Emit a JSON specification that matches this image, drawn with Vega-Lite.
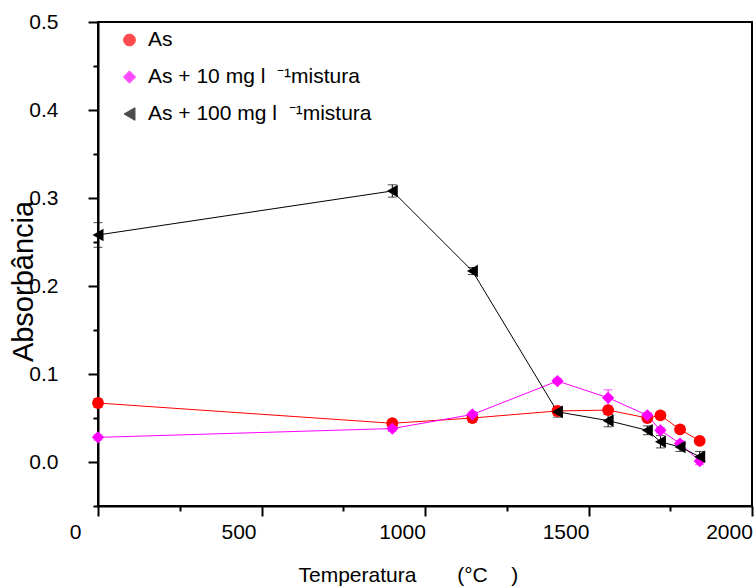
{
  "$schema": "https://vega.github.io/schema/vega-lite/v6.json",
  "width": 654,
  "height": 484,
  "autosize": "none",
  "padding": {"left": 98, "top": 22, "right": 4, "bottom": 80},
  "background": "white",
  "config": {
    "font": "Liberation Sans",
    "view": {"stroke": "#000000", "strokeWidth": 2},
    "axis": {
      "grid": false,
      "domainColor": "#000000",
      "domainWidth": 2,
      "tickColor": "#000000",
      "tickWidth": 2,
      "labelColor": "#000000",
      "titleColor": "#000000",
      "labelFont": "Liberation Sans",
      "titleFont": "Liberation Sans",
      "labelFontSize": 21,
      "titleFontSize": 21,
      "titleFontWeight": "normal",
      "labelFlush": false,
      "labelOverlap": false
    }
  },
  "datasets": {
    "pts": [
      {"serie": "As", "T": 0, "A": 0.067, "E": 0.005},
      {"serie": "As", "T": 900, "A": 0.044, "E": 0.003},
      {"serie": "As", "T": 1145, "A": 0.050, "E": 0.003},
      {"serie": "As", "T": 1405, "A": 0.058, "E": 0.003},
      {"serie": "As", "T": 1560, "A": 0.059, "E": 0.003},
      {"serie": "As", "T": 1680, "A": 0.050, "E": 0.003},
      {"serie": "As", "T": 1720, "A": 0.053, "E": 0.003},
      {"serie": "As", "T": 1780, "A": 0.037, "E": 0.003},
      {"serie": "As", "T": 1840, "A": 0.024, "E": 0.003},
      {"serie": "As + 10 mg l \u00a0⁻¹mistura", "T": 0, "A": 0.028, "E": 0.003},
      {"serie": "As + 10 mg l \u00a0⁻¹mistura", "T": 900, "A": 0.038, "E": 0.003},
      {"serie": "As + 10 mg l \u00a0⁻¹mistura", "T": 1145, "A": 0.054, "E": 0.003},
      {"serie": "As + 10 mg l \u00a0⁻¹mistura", "T": 1405, "A": 0.092, "E": 0.003},
      {"serie": "As + 10 mg l \u00a0⁻¹mistura", "T": 1560, "A": 0.073, "E": 0.009},
      {"serie": "As + 10 mg l \u00a0⁻¹mistura", "T": 1680, "A": 0.053, "E": 0.003},
      {"serie": "As + 10 mg l \u00a0⁻¹mistura", "T": 1720, "A": 0.036, "E": 0.003},
      {"serie": "As + 10 mg l \u00a0⁻¹mistura", "T": 1780, "A": 0.021, "E": 0.003},
      {"serie": "As + 10 mg l \u00a0⁻¹mistura", "T": 1840, "A": 0.001, "E": 0.004},
      {"serie": "As + 100 mg l \u00a0⁻¹mistura", "T": 0, "A": 0.258, "E": 0.014},
      {"serie": "As + 100 mg l \u00a0⁻¹mistura", "T": 900, "A": 0.308, "E": 0.007},
      {"serie": "As + 100 mg l \u00a0⁻¹mistura", "T": 1145, "A": 0.217, "E": 0.004},
      {"serie": "As + 100 mg l \u00a0⁻¹mistura", "T": 1405, "A": 0.057, "E": 0.006},
      {"serie": "As + 100 mg l \u00a0⁻¹mistura", "T": 1560, "A": 0.047, "E": 0.007},
      {"serie": "As + 100 mg l \u00a0⁻¹mistura", "T": 1680, "A": 0.036, "E": 0.005},
      {"serie": "As + 100 mg l \u00a0⁻¹mistura", "T": 1720, "A": 0.023, "E": 0.007},
      {"serie": "As + 100 mg l \u00a0⁻¹mistura", "T": 1780, "A": 0.017, "E": 0.005},
      {"serie": "As + 100 mg l \u00a0⁻¹mistura", "T": 1840, "A": 0.006, "E": 0.006}
    ]
  },
  "data": {"name": "pts"},
  "layer": [
    {
      "mark": {"type": "point", "opacity": 0},
      "encoding": {
        "x": {"field": "T", "type": "quantitative", "scale": {"domain": [0, 2000], "nice": false, "zero": false},
          "axis": {"orient": "bottom", "values": [250, 750, 1250, 1750], "tickSize": 5, "labels": false, "domain": false, "title": null}},
        "y": {"field": "A", "type": "quantitative", "scale": {"domain": [-0.05, 0.5], "nice": false, "zero": false},
          "axis": {"orient": "left", "values": [-0.05, 0.05, 0.15, 0.25, 0.35, 0.45], "tickSize": 5, "labels": false, "domain": false, "title": null}}
      }
    },
    {
      "mark": {"type": "errorbar", "thickness": 1, "ticks": {"size": 9, "thickness": 1}},
      "encoding": {
        "x": {"field": "T", "type": "quantitative", "axis": null},
        "y": {"field": "A", "type": "quantitative", "axis": null},
        "yError": {"field": "E"},
        "color": {"field": "serie", "type": "nominal"}
      }
    },
    {
      "mark": {"type": "line", "strokeWidth": 1},
      "encoding": {
        "x": {"field": "T", "type": "quantitative",
          "axis": {"orient": "bottom", "values": [0, 500, 1000, 1500, 2000], "format": "d", "tickSize": 10, "labelOffset": -23, "labelPadding": 5,
            "title": "Temperatura\u00a0\u00a0\u00a0\u00a0\u00a0\u00a0\u00a0(°C\u00a0\u00a0\u00a0\u00a0)", "titleAlign": "left", "titleX": 200, "titleY": 75, "titleBaseline": "alphabetic"}},
        "y": {"field": "A", "type": "quantitative",
          "axis": {"orient": "left", "values": [0, 0.1, 0.2, 0.3, 0.4, 0.5], "format": ".1f", "tickSize": 10, "labelPadding": 30,
            "title": "Absorbância", "titleFontSize": 29, "titleAngle": -90, "titleAlign": "center", "titleBaseline": "alphabetic", "titleX": -66, "titleY": 259}},
        "color": {"field": "serie", "type": "nominal"},
        "detail": {"field": "serie"}
      }
    },
    {
      "mark": {"type": "point", "filled": true, "opacity": 1},
      "encoding": {
        "x": {"field": "T", "type": "quantitative", "axis": null},
        "y": {"field": "A", "type": "quantitative", "axis": null},
        "size": {"field": "serie", "type": "nominal", "legend": null,
          "scale": {"domain": ["As", "As + 10 mg l \u00a0⁻¹mistura", "As + 100 mg l \u00a0⁻¹mistura"], "range": [140, 160, 230]}},
        "shape": {"field": "serie", "type": "nominal",
          "scale": {"domain": ["As", "As + 10 mg l \u00a0⁻¹mistura", "As + 100 mg l \u00a0⁻¹mistura"], "range": ["circle", "diamond", "triangle-left"]}},
        "color": {"field": "serie", "type": "nominal",
          "scale": {"domain": ["As", "As + 10 mg l \u00a0⁻¹mistura", "As + 100 mg l \u00a0⁻¹mistura"], "range": ["#ff0000", "#ff00ff", "#000000"]},
          "legend": {
            "orient": "none", "legendX": 21, "legendY": 7.5, "title": null, "padding": 0,
            "labelFont": "Liberation Sans", "labelFontSize": 21, "labelColor": "#000000", "labelLimit": 500,
            "symbolSize": 150, "labelOffset": 8, "rowPadding": 15, "symbolStrokeWidth": 1, "symbolOpacity": 1
          }}
      }
    }
  ],
  "resolve": {"axis": {"x": "independent", "y": "independent"}}
}
